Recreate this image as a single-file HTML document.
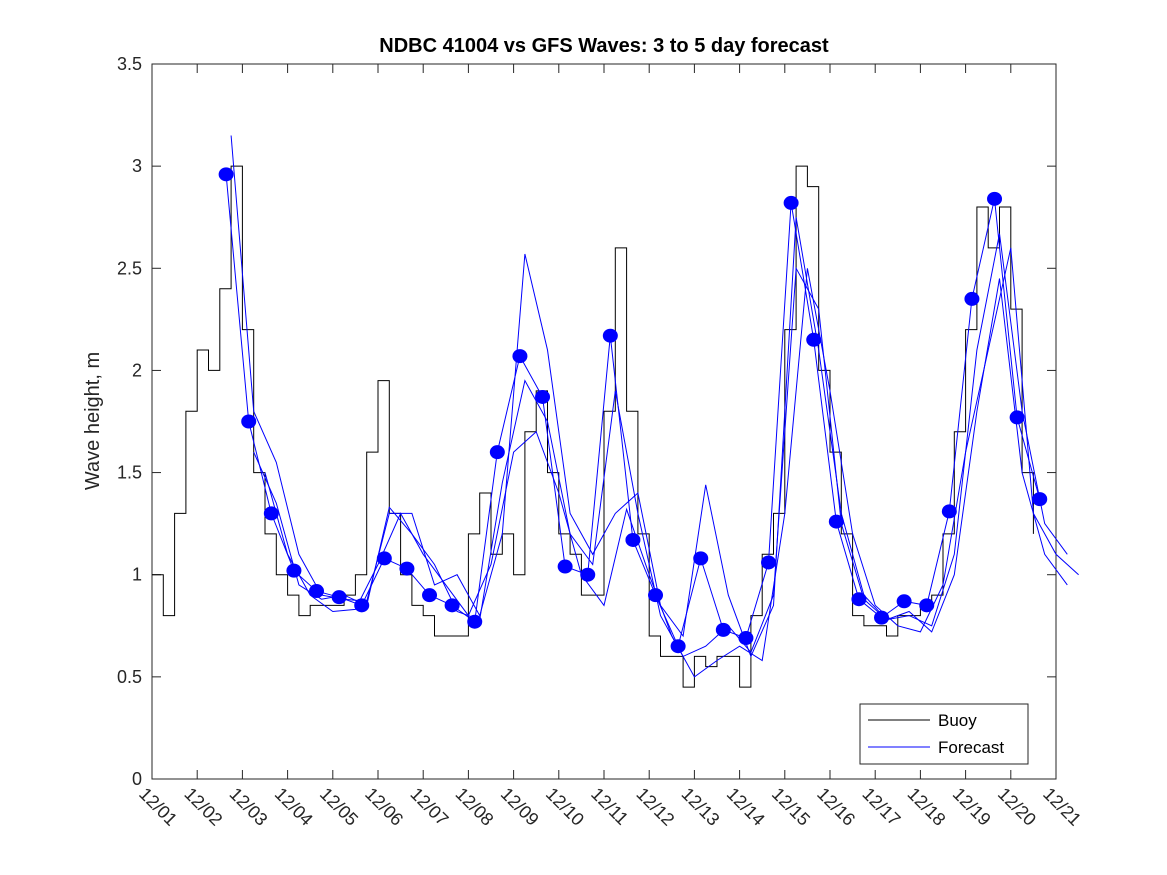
<!DOCTYPE html>
<html><head><meta charset="utf-8"><style>
body{margin:0;background:#fff;}
svg{display:block;font-family:"Liberation Sans",sans-serif;}
</style></head><body>
<svg id="chart" width="1167" height="875" viewBox="0 0 1167 875" xmlns="http://www.w3.org/2000/svg">
<rect width="1167" height="875" fill="#fff"/>
<text x="604" y="52" text-anchor="middle" font-size="20" font-weight="bold" fill="#000">NDBC 41004 vs GFS Waves: 3 to 5 day forecast</text>
<text transform="translate(99,421) rotate(-90)" text-anchor="middle" font-size="20" fill="#262626">Wave height, m</text>
<g id="axes"></g>
<g id="series"></g>
<g>
<rect x="860" y="704" width="168" height="60" fill="#fff" stroke="#262626" stroke-width="1"/>
<line x1="868" y1="720" x2="930" y2="720" stroke="#000" stroke-width="1"/>
<text x="938" y="726" font-size="17" fill="#000">Buoy</text>
<line x1="868" y1="747" x2="930" y2="747" stroke="#0000ff" stroke-width="1"/>
<text x="938" y="753" font-size="17" fill="#000">Forecast</text>
</g>
</svg>
<script>
const yTicks=[0,0.5,1,1.5,2,2.5,3,3.5];
const yTickLabels=["0","0.5","1","1.5","2","2.5","3","3.5"];
const xTickLabels=["12/01","12/02","12/03","12/04","12/05","12/06","12/07","12/08","12/09","12/10","12/11","12/12","12/13","12/14","12/15","12/16","12/17","12/18","12/19","12/20","12/21"];
const buoyStep=0.25;
const buoyValues=[1.0,0.8,1.3,1.8,2.1,2.0,2.4,3.0,2.2,1.5,1.2,1.0,0.9,0.8,0.85,0.85,0.85,0.9,1.0,1.6,1.95,1.3,1.0,0.85,0.8,0.7,0.7,0.7,1.2,1.4,1.1,1.2,1.0,1.7,1.9,1.5,1.2,1.1,0.9,0.9,1.8,2.6,1.8,1.2,0.7,0.6,0.6,0.45,0.6,0.55,0.6,0.6,0.45,0.8,1.1,1.3,2.2,3.0,2.9,2.0,1.6,1.2,0.8,0.75,0.75,0.7,0.8,0.8,0.85,0.9,1.2,1.7,2.2,2.8,2.6,2.8,2.3,1.5,1.2];
const dotStart=1.64, dotStep=0.5;
const dotValues=[2.96,1.75,1.30,1.02,0.92,0.89,0.85,1.08,1.03,0.90,0.85,0.77,1.60,2.07,1.87,1.04,1.00,2.17,1.17,0.90,0.65,1.08,0.73,0.69,1.06,2.82,2.15,1.26,0.88,0.79,0.87,0.85,1.31,2.35,2.84,1.77,1.37];
const fcAStart=1.75;
const fcAValues=[3.15,1.8,1.55,1.1,0.9,0.88,0.87,1.3,1.3,0.95,1.0,0.8,1.2,2.57,2.1,1.3,1.1,1.3,1.4,0.85,0.7,1.44,0.9,0.6,0.85,2.75,2.1,1.3,0.9,0.78,0.8,0.75,1.1,2.1,2.67,1.8,1.25,1.1];
const fcBStart=2.25;
const fcBValues=[1.6,1.35,0.95,0.88,0.9,0.85,1.33,1.2,1.05,0.82,0.78,1.45,1.95,1.75,1.2,1.05,1.9,1.3,0.8,0.6,0.65,0.75,0.62,0.9,2.5,2.3,1.25,0.88,0.78,0.82,0.72,1.0,1.8,2.45,1.5,1.1,0.95];
const fcCStart=2.5;
const fcCValues=[1.5,1.1,0.9,0.82,0.83,1.05,1.3,1.1,0.95,0.8,1.05,1.6,1.7,1.4,1.0,0.85,1.32,1.0,0.7,0.5,0.58,0.65,0.58,1.3,2.5,1.9,1.2,0.85,0.75,0.72,0.95,1.6,2.1,2.6,1.3,1.1,1.0];

const X0=152,X1=1056,Y0=779,Y1=64;
const xs=d=>X0+(X1-X0)*d/20;
const ys=v=>Y0-(Y0-Y1)*v/3.5;
const NS="http://www.w3.org/2000/svg";
function mk(tag,attrs,parent){const e=document.createElementNS(NS,tag);for(const k in attrs)e.setAttribute(k,attrs[k]);parent.appendChild(e);return e;}
const axes=document.getElementById('axes'), series=document.getElementById('series');
const box=mk('rect',{x:X0,y:Y1,width:X1-X0,height:Y0-Y1,fill:'none',stroke:'#262626','stroke-width':1},axes);


yTicks.forEach((v,i)=>{
  const y=ys(v);
  mk('line',{x1:X0,y1:y,x2:X0+9,y2:y,stroke:'#262626'},axes);
  mk('line',{x1:X1,y1:y,x2:X1-9,y2:y,stroke:'#262626'},axes);
  const t=mk('text',{x:X0-10,y:y+6,'text-anchor':'end','font-size':18,fill:'#262626'},axes);
  t.textContent=yTickLabels[i];
  
  
});
xTickLabels.forEach((lab,i)=>{
  const x=xs(i);
  mk('line',{x1:x,y1:Y0,x2:x,y2:Y0-9,stroke:'#262626'},axes);
  mk('line',{x1:x,y1:Y1,x2:x,y2:Y1+9,stroke:'#262626'},axes);
  const t=mk('text',{transform:`translate(${x-14},${Y0+16}) rotate(45)`,'font-size':18,fill:'#262626'},axes);
  t.textContent=lab;
  
  
});
function linePath(start,step,vals){return vals.map((v,i)=>(i?'L':'M')+xs(start+i*step).toFixed(1)+','+ys(v).toFixed(1)).join('');}
function stepPath(start,step,vals){let d='';vals.forEach((v,i)=>{const x=xs(start+i*step),y=ys(v);d+=(i?'H'+x.toFixed(1)+'V':'M'+x.toFixed(1)+',')+y.toFixed(1);});return d;}
const buoy=mk('path',{d:stepPath(0,buoyStep,buoyValues),fill:'none',stroke:'#000','stroke-width':1},series);


[[fcAStart,fcAValues,'forecast-line-a'],[fcBStart,fcBValues,'forecast-line-b'],[fcCStart,fcCValues,'forecast-line-c'],[dotStart,dotValues,'forecast-line-dots']].forEach(s=>{
  const p=mk('path',{d:linePath(s[0],0.5,s[1]),fill:'none',stroke:'#0000ff','stroke-width':1},series);
  
  
});
dotValues.forEach((v,i)=>{
  const c=mk('ellipse',{cx:xs(dotStart+i*dotStep),cy:ys(v),rx:7.5,ry:7,fill:'#0000ff'},series);
  
  
});
</script>
</body></html>
